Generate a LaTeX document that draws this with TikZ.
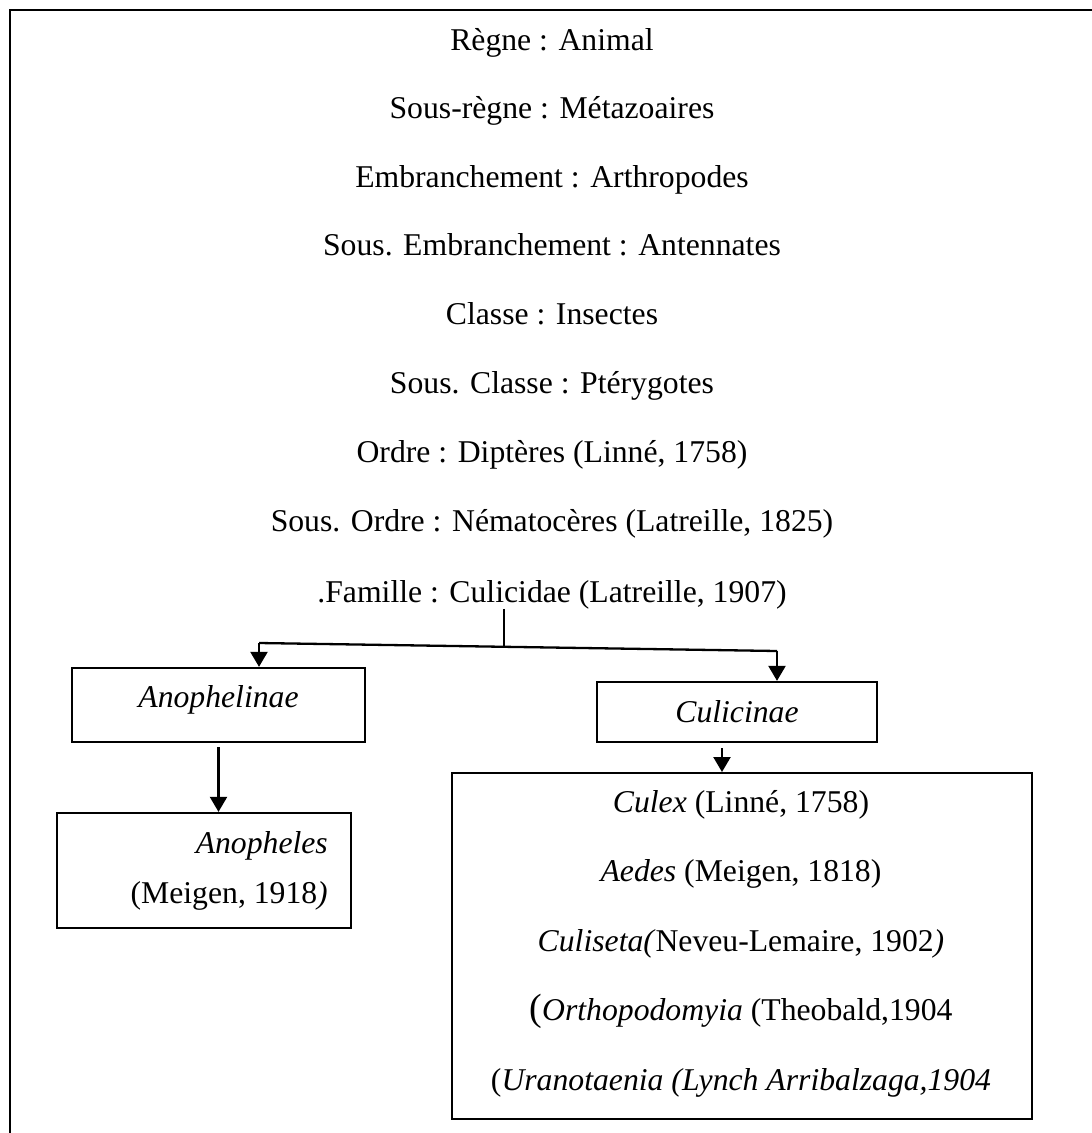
\documentclass[tikz,border=0pt]{standalone}
\usepackage{fontspec}
\setmainfont{Liberation Serif}
\usetikzlibrary{arrows.meta}
\begin{document}
\begin{tikzpicture}[x=1pt,y=-1pt,
  txt/.style={anchor=base,inner sep=0pt,font=\fontsize{31.7}{36}\selectfont},
  boxnode/.style={draw,line width=2.3pt,inner sep=0pt,font=\fontsize{31.7}{36}\selectfont},
  ln/.style={line width=2.3pt},
  arr/.style={line width=2.3pt,-{Triangle[width=17pt,length=15pt]}}]
\useasboundingbox (0,0) rectangle (1092,1133);
\clip (0,0) rectangle (1092,1133);
% outer frame (cut off at right and bottom)
\draw[ln] (1110,10) -- (10,10) -- (10,1150);
% taxonomy lines
\node[txt] (r1) at (552,50) {Règne : Animal};
\node[txt] (r2) at (552,118.5) {Sous-règne : Métazoaires};
\node[txt] (r3) at (552,187) {Embranchement : Arthropodes};
\node[txt] (r4) at (552,255.5) {Sous. Embranchement : Antennates};
\node[txt] (r5) at (552,324) {Classe : Insectes};
\node[txt] (r6) at (552,393) {Sous. Classe : Ptérygotes};
\node[txt] (r7) at (552,462) {Ordre : Diptères (Linné, 1758)};
\node[txt] (r8) at (552,531) {Sous. Ordre : Nématocères (Latreille, 1825)};
\node[txt] (fam) at (552,602) {.Famille : Culicidae (Latreille, 1907)};
% subfamily boxes
\node[boxnode,anchor=base,text height=39pt,text depth=35pt,minimum width=293pt] (anoph) at (218.5,707) {\textit{Anophelinae}};
\node[boxnode,anchor=base,text height=40pt,text depth=20pt,minimum width=280pt] (culi) at (737,722) {\textit{Culicinae}};
% genus boxes
\node[boxnode,minimum width=294pt,minimum height=115pt] (anopheles) at (204,870.5) {};
\node[txt,anchor=base east] (g1) at (328,853) {\textit{Anopheles}};
\node[txt,anchor=base east] (g2) at (328,903) {(Meigen, 1918\textit{)}};
\node[boxnode,minimum width=580pt,minimum height=346pt,anchor=north west] (big) at (451,772) {};
\node[txt] (c1) at (741,812) {\textit{Culex} (Linné, 1758)};
\node[txt] (c2) at (741,881.5) {\textit{Aedes} (Meigen, 1818)};
\node[txt] (c3) at (741,951) {\textit{Culiseta(}Neveu-Lemaire, 1902\textit{)}};
\node[txt] (c4) at (741,1020.5) {{\fontsize{38}{38}\selectfont(}\textit{Orthopodomyia} (Theobald,1904};
\node[txt] (c5) at (741,1090) {(\textit{Uranotaenia (Lynch Arribalzaga,1904}};
% connectors
\coordinate (jL) at (259,643);
\coordinate (jR) at (777,651);
\coordinate (jM) at (504,646.8);
\draw[ln] (jL) -- (jR);
\draw[ln] (fam.south -| jM) -- (jM);
\draw[arr] (jL) -- (jL |- anoph.north);
\draw[arr] (jR) -- (jR |- culi.north);
\draw[arr] ([yshift=-4pt]anoph.south) -- (anoph.south |- anopheles.north);
\draw[arr] ([xshift=-15pt,yshift=-5pt]culi.south) -- ([xshift=-15pt]culi.south |- big.north);
\end{tikzpicture}
\end{document}
